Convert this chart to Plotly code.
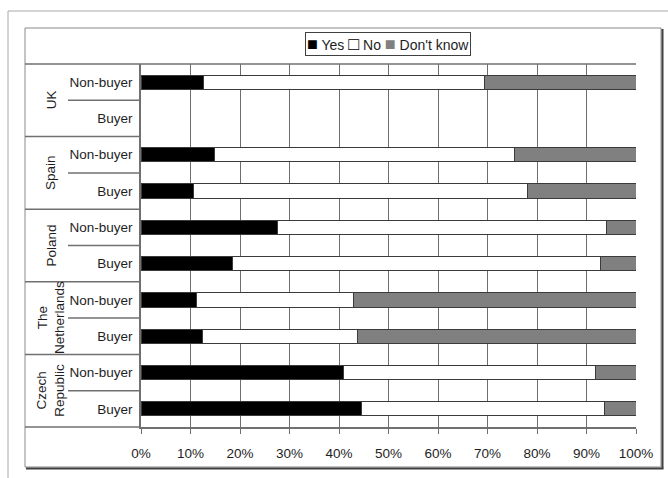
import plotly.graph_objects as go

# ---- data ----
countries = ["UK", "Spain", "Poland", "The<br>Netherlands", "Czech<br>Republic"]
groups = ["Non-buyer", "Buyer"]
series_names = ["Yes", "No", "Don't know"]
yes = [12.7, None, 14.8, 10.7, 27.5, 18.4, 11.3, 12.4, 41.0, 44.5]
no = [56.7, None, 60.7, 67.3, 66.6, 74.5, 31.7, 31.4, 50.9, 49.2]
dont_know = [30.6, None, 24.5, 22.0, 5.9, 7.1, 57.0, 56.2, 8.1, 6.3]
x_ticks = list(range(0, 101, 10))

keys = [f"{c.replace('<br>', ' ')} | {g}" for c in countries for g in groups]
tick_text = [g for c in countries for g in groups]

W, H = 668, 478
ML, MR, MT, MB = 141, 32, 64, 51
PW, PH = W - ML - MR, H - MT - MB


def px(x):
    return (x - ML) / PW


def py(y):
    return 1 - (y - MT) / PH


FONT = "Liberation Sans, Arial, sans-serif"
TXT = "#1e1e1e"
OUTLINE = "#3a3a3a"
FS = 13.5

fig = go.Figure()
colors = ["#000000", "#ffffff", "#808080"]
for name, vals, col in zip(series_names, [yes, no, dont_know], colors):
    fig.add_trace(go.Bar(
        x=vals, y=keys, orientation="h", name=name,
        marker=dict(color=col, line=dict(color=OUTLINE, width=1)),
        showlegend=False,
    ))

shapes = []
# outer frame (open right/bottom)
shapes.append(dict(type="line", xref="paper", yref="paper",
                   x0=px(8), x1=px(W + 5), y0=py(11), y1=py(11),
                   line=dict(color="#a8a8a8", width=1)))
shapes.append(dict(type="line", xref="paper", yref="paper",
                   x0=px(8), x1=px(8), y0=py(11), y1=py(H + 5),
                   line=dict(color="#a8a8a8", width=1)))
# inner frame
shapes.append(dict(type="rect", xref="paper", yref="paper",
                   x0=px(25), x1=px(661), y0=py(28), y1=py(467),
                   line=dict(color="#8a8a8a", width=1)))
# shadow on right & bottom
shapes.append(dict(type="line", xref="paper", yref="paper",
                   x0=px(662.5), x1=px(662.5), y0=py(29), y1=py(468.5),
                   line=dict(color="#404040", width=2)))
shapes.append(dict(type="line", xref="paper", yref="paper",
                   x0=px(26), x1=px(663.5), y0=py(468.5), y1=py(468.5),
                   line=dict(color="#404040", width=2)))
# top line of plot + label column
shapes.append(dict(type="line", xref="paper", yref="paper",
                   x0=px(25), x1=1, y0=1, y1=1,
                   line=dict(color="#707070", width=1.5)))
# bottom line extension into label column
shapes.append(dict(type="line", xref="paper", yref="paper",
                   x0=px(25), x1=0, y0=0, y1=0,
                   line=dict(color="#707070", width=1.5)))
# label column dividers
n = len(keys)
for i in range(1, n):
    is_group = (i % 2 == 0)
    shapes.append(dict(type="line", xref="paper", yref="y",
                       x0=px(25) if is_group else px(68), x1=0,
                       y0=i - 0.5, y1=i - 0.5,
                       line=dict(color="#707070", width=1.5)))

annotations = []
for gi, c in enumerate(countries):
    annotations.append(dict(
        text=c, x=px(51), xref="paper", y=gi * 2 + 0.5, yref="y",
        textangle=-90, showarrow=False, xanchor="center", yanchor="middle",
        font=dict(family=FONT, size=FS, color=TXT), align="center",
    ))

sq = "<span style='font-size:18px;color:{c}'>{g}</span>"
legend_text = (sq.format(c="#000000", g="■") + " Yes "
               + sq.format(c="#000000", g="□") + " No "
               + sq.format(c="#808080", g="■") + " Don't know")
annotations.append(dict(
    text=legend_text, x=px(387.5), y=py(44), xref="paper", yref="paper",
    showarrow=False, xanchor="center", yanchor="middle",
    font=dict(family=FONT, size=14, color=TXT),
    bordercolor="#404040", borderwidth=1, borderpad=1, bgcolor="#ffffff",
))

fig.update_layout(
    width=W, height=H,
    margin=dict(l=ML, r=MR, t=MT, b=MB),
    barmode="stack", bargap=0.61,
    plot_bgcolor="#ffffff", paper_bgcolor="#ffffff",
    shapes=shapes, annotations=annotations,
    font=dict(family=FONT, size=FS, color=TXT),
)
fig.update_xaxes(
    range=[0, 100], tickvals=x_ticks, ticktext=[f"{v}%" for v in x_ticks],
    showgrid=True, gridcolor="#6e6e6e", gridwidth=1.3,
    showline=True, linecolor="#707070", linewidth=1.5,
    ticks="outside", ticklen=5, tickcolor="#707070",
    ticklabelstandoff=8, zeroline=False, fixedrange=True,
)
fig.update_yaxes(
    categoryorder="array", categoryarray=keys, autorange="reversed",
    tickvals=keys, ticktext=tick_text,
    showgrid=False, showline=True, linecolor="#707070", linewidth=1.5,
    ticks="", ticklabelstandoff=4, fixedrange=True,
)

fig.write_html("out.html")
